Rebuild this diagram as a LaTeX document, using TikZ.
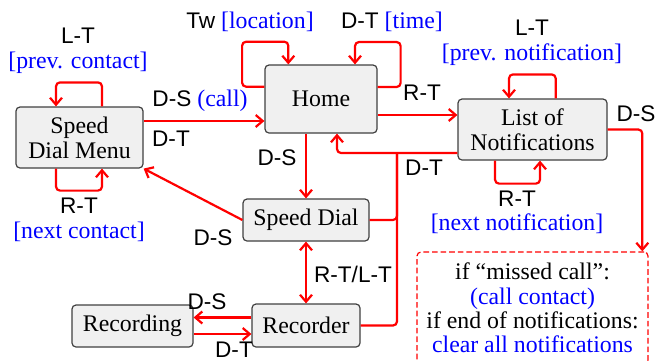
\documentclass[tikz,border=0pt]{standalone}
\usepackage{fontspec}
\setmainfont{Liberation Serif}
\setsansfont{Liberation Sans}
\usetikzlibrary{arrows.meta,calc}
\newcommand\lsf[1]{{\sffamily\fontsize{11.3}{12.3}\selectfont #1}}
\newcommand\cblue[1]{\textcolor{blue}{#1}}
\begin{document}
\begin{tikzpicture}[x=0.5pt,y=-0.5pt,
  state/.style={draw=black!75, line width=0.6pt, fill=black!6, rounded corners=2pt, inner sep=0pt, align=center, font=\fontsize{11.9}{12.4}\selectfont},
  edge/.style={draw=red, line width=1.1pt, rounded corners=2pt},
  arr/.style={edge, -{Straight Barb[length=3.5pt,width=6pt]}},
  arrboth/.style={edge, {Straight Barb[length=3.5pt,width=6pt]}-{Straight Barb[length=3.5pt,width=6pt]}},
  lbl/.style={font=\fontsize{11.9}{12.3}\selectfont, inner sep=0pt, align=center},
]
\useasboundingbox (0,0) rectangle (656,360);
\clip (0,0) rectangle (656,360);

% states
\node[state, minimum width=63.5pt, minimum height=30.5pt] (sdm) at (79.5,137.5) {Speed\\Dial Menu};
\node[state, minimum width=56pt, minimum height=34pt] (home) at (321,99) {Home};
\node[state, minimum width=74.5pt, minimum height=30.5pt] (lon) at (532.5,129.5) {List of\\Notifications};
\node[state, minimum width=63pt, minimum height=21pt] (sd) at (306,220) {Speed Dial};
\node[state, minimum width=54pt, minimum height=21.5pt] (rec) at (306,325.5) {Recorder};
\node[state, minimum width=60.5pt, minimum height=21pt] (recg) at (132.5,326) {Recording};
\node[draw=red, line width=0.6pt, dash pattern=on 2.8pt off 1.5pt, rounded corners=2pt, inner sep=0pt,
      minimum width=115.5pt, minimum height=56pt, align=center, font=\fontsize{11.9}{12.1}\selectfont]
      (note) at (532.5,308) {if “missed call”:\\\cblue{(call contact)}\\if end of notifications:\\\cblue{clear all notifications}};

% self loops
\draw[arr] ($(sdm.north)+(22.5,0)$) -- ++(0,-24) -| ($(sdm.north)+(-23.5,0)$);
\draw[arr] ($(sdm.south)+(-23.5,0)$) -- ++(0,22) -| ($(sdm.south)+(22.5,0)$);
\draw[arr] ($(home.west)+(0,-12.3)$) -| ++(-22.3,-45) -| ($(home.north)+(-32.7,0)$);
\draw[arr] ($(home.east)+(0,-12)$) -| ++(23,-45) -| ($(home.north)+(34,0)$);
\draw[arr] ($(lon.north)+(23.2,0)$) -- ++(0,-24) -| ($(lon.north)+(-23.5,0)$);
\draw[arr] ($(lon.south)+(-37.5,0)$) -- ++(0,23) -| ($(lon.south)+(7.5,0)$);

% transitions
\coordinate (a1) at ($(sdm.east)+(0,-16.5)$);
\draw[arr] (a1) -- (a1 -| home.west);
\coordinate (a2) at ($(home.east)+(0,16)$);
\draw[arr] (a2) -- (a2 -| lon.west);
\draw[arr] (lon.east) -| ($(note.north east)+(-6.3,0)$);
\draw[arr] (home.south -| sd.north) -- (sd.north);
\draw[arr] ($(lon.west)+(0,23.5)$) -| ($(home.south)+(16,0)$);
\coordinate (jn) at (397,153);
\draw[edge] (sd.east) -| (jn);
\draw[edge] (rec.east) -| (jn);
\draw[arr] (sd.west) -- (sdm.south east);
\draw[arrboth] (sd.south) -- (rec.north);
\coordinate (a3) at ($(rec.west)+(0,-8)$);
\draw[arr] (a3) -- (a3 -| recg.east);
\coordinate (a4) at ($(recg.east)+(0,8)$);
\draw[arr] (a4) -- (a4 -| rec.west);

% labels
\node[lbl] (l1) at (78,50.5) {\lsf{L-T}\\\cblue{[prev. contact]}};
\node[lbl] (l2) at (79,220) {\lsf{R-T}\\\cblue{[next contact]}};
\node[lbl] (l3) at (250,22) {\lsf{Tw} \cblue{[location]}};
\node[lbl] (l4) at (392,22) {\lsf{D-T} \cblue{[time]}};
\node[lbl] (l5) at (532,43) {\lsf{L-T}\\\cblue{[prev. notification]}};
\node[lbl] (l6) at (517,212.5) {\lsf{R-T}\\\cblue{[next notification]}};
\node[lbl] (l7) at (200,101) {\lsf{D-S} \cblue{(call)}};
\node[lbl] (l8) at (171,139) {\lsf{D-T}};
\node[lbl] (l9) at (422,93) {\lsf{R-T}};
\node[lbl] (l10) at (636,114) {\lsf{D-S}};
\node[lbl] (l11) at (277,158) {\lsf{D-S}};
\node[lbl] (l12) at (424,168) {\lsf{D-T}};
\node[lbl] (l13) at (213,237.5) {\lsf{D-S}};
\node[lbl] (l14) at (353,274) {\lsf{R-T/L-T}};
\node[lbl] (l15) at (207,302) {\lsf{D-S}};
\node[lbl] (l16) at (234,350) {\lsf{D-T}};
\end{tikzpicture}
\end{document}
